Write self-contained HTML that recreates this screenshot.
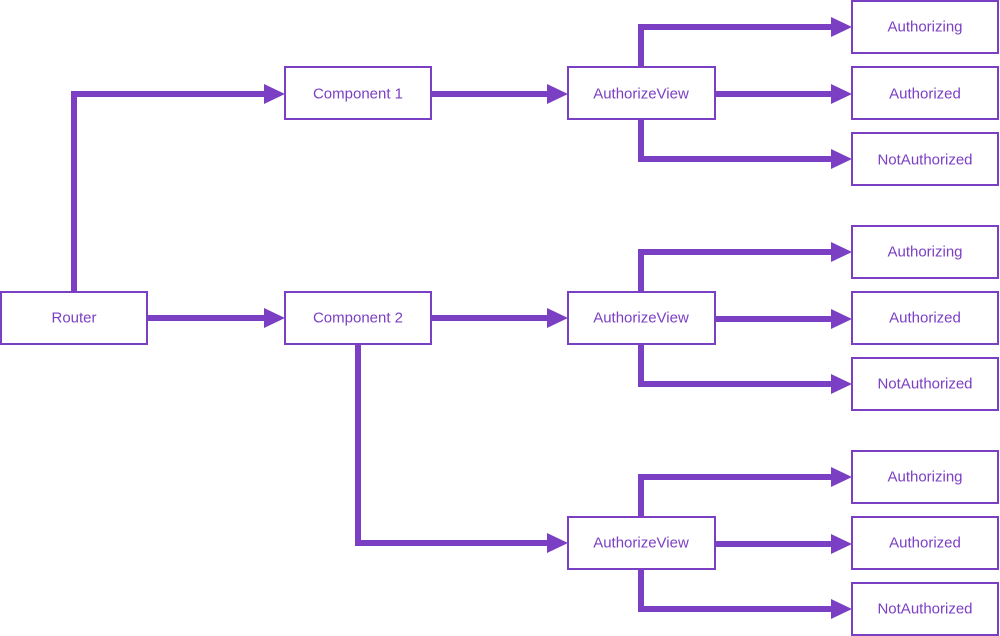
<!DOCTYPE html>
<html><head><meta charset="utf-8"><style>
html,body{margin:0;padding:0;background:#fff;}
svg{display:block;}
text{font-family:"Liberation Sans","DejaVu Sans",sans-serif;font-size:15px;fill:#7b3fc4;text-anchor:middle;dominant-baseline:central;}
.b{fill:#fff;stroke:#7b3fc4;stroke-width:2;}
.l{fill:none;stroke:#7b3fc4;stroke-width:6;stroke-linejoin:miter;}
.a{fill:#7b3fc4;}
</style></head><body>
<svg width="1000" height="636" viewBox="0 0 1000 636" xmlns="http://www.w3.org/2000/svg">
<polyline class="l" points="74,292 74,94 266,94"/>
<polygon class="a" points="264,84 285,94 264,104"/>
<polyline class="l" points="147,318 266,318"/>
<polygon class="a" points="264,308 285,318 264,328"/>
<polyline class="l" points="431,94 549,94"/>
<polygon class="a" points="547,84 568,94 547,104"/>
<polyline class="l" points="431,318 549,318"/>
<polygon class="a" points="547,308 568,318 547,328"/>
<polyline class="l" points="358,344 358,543 549,543"/>
<polygon class="a" points="547,533 568,543 547,553"/>
<g id="br">
<polyline class="l" points="641,67 641,27 833,27"/>
<polygon class="a" points="831,17 852,27 831,37"/>
<polyline class="l" points="715,94 833,94"/>
<polygon class="a" points="831,84 852,94 831,104"/>
<polyline class="l" points="641,119 641,159 833,159"/>
<polygon class="a" points="831,149 852,159 831,169"/>
</g>
<use href="#br" y="225"/>
<use href="#br" y="450"/>
<rect class="b" x="1" y="292" width="146" height="52"/><text x="74" y="318">Router</text>
<rect class="b" x="285" y="67" width="146" height="52"/><text x="358" y="94">Component 1</text>
<rect class="b" x="285" y="292" width="146" height="52"/><text x="358" y="318">Component 2</text>
<rect class="b" x="568" y="67" width="147" height="52"/><text x="641" y="94">AuthorizeView</text>
<rect class="b" x="568" y="292" width="147" height="52"/><text x="641" y="318">AuthorizeView</text>
<rect class="b" x="568" y="517" width="147" height="52"/><text x="641" y="543">AuthorizeView</text>
<rect class="b" x="852" y="1" width="146" height="52"/><text x="925" y="27">Authorizing</text>
<rect class="b" x="852" y="67" width="146" height="52"/><text x="925" y="94">Authorized</text>
<rect class="b" x="852" y="133" width="146" height="52"/><text x="925" y="160">NotAuthorized</text>
<rect class="b" x="852" y="226" width="146" height="52"/><text x="925" y="252">Authorizing</text>
<rect class="b" x="852" y="292" width="146" height="52"/><text x="925" y="318">Authorized</text>
<rect class="b" x="852" y="358" width="146" height="52"/><text x="925" y="384">NotAuthorized</text>
<rect class="b" x="852" y="451" width="146" height="52"/><text x="925" y="477">Authorizing</text>
<rect class="b" x="852" y="517" width="146" height="52"/><text x="925" y="543">Authorized</text>
<rect class="b" x="852" y="583" width="146" height="52"/><text x="925" y="609">NotAuthorized</text>
</svg>
</body></html>
